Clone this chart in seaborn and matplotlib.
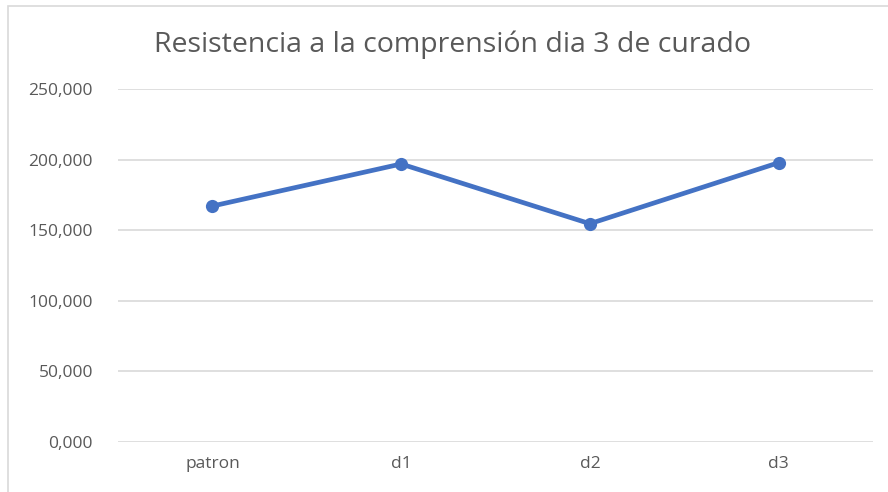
import matplotlib
matplotlib.use("Agg")
import matplotlib.pyplot as plt
import matplotlib.patches as mpatches
from matplotlib.ticker import FuncFormatter, MultipleLocator
import seaborn as sns
import pandas as pd

categories = ["patron", "d1", "d2", "d3"]
resistance = [167.1, 196.9, 154.6, 197.8]

df = pd.DataFrame({"muestra": categories, "resistencia": resistance})

sns.set_style("white")
plt.rcParams["font.family"] = ["Open Sans", "DejaVu Sans"]

fig = plt.figure(figsize=(8.88, 4.92), dpi=100)
ax = fig.add_axes([118 / 888, 50 / 492, 755 / 888, 353 / 492])

sns.lineplot(data=df, x="muestra", y="resistencia", ax=ax, color="#4472C4",
             linewidth=3.4, marker="o", markersize=9.5, markeredgewidth=0, sort=False)

ax.set_ylim(0, 250)
ax.set_xlim(-0.5, 3.5)
ax.yaxis.set_major_locator(MultipleLocator(50))
ax.yaxis.set_major_formatter(FuncFormatter(lambda v, p: f"{v:,.3f}".replace(",", " ").replace(".", ",").replace(" ", ".")))
ax.grid(axis="y", color="#D9D9D9", linewidth=1.2)
ax.set_axisbelow(True)
for s in ax.spines.values():
    s.set_visible(False)
ax.tick_params(axis="both", length=0, labelsize=12.5, labelcolor="#595959")
ax.tick_params(axis="y", pad=18)
ax.tick_params(axis="x", pad=10)
ax.set_xlabel("")
ax.set_ylabel("")

fig.text(0.51, 0.91, "Resistencia a la comprensión dia 3 de curado", ha="center", va="center",
         fontsize=20.5, color="#595959")

# chart frame
fig.patches.append(mpatches.Rectangle((8 / 888, -0.05), 1.2, 1.05 - 6 / 492, transform=fig.transFigure,
                                      fill=False, edgecolor="#D9D9D9", linewidth=1.2))

fig.savefig("out.png", dpi=100)
